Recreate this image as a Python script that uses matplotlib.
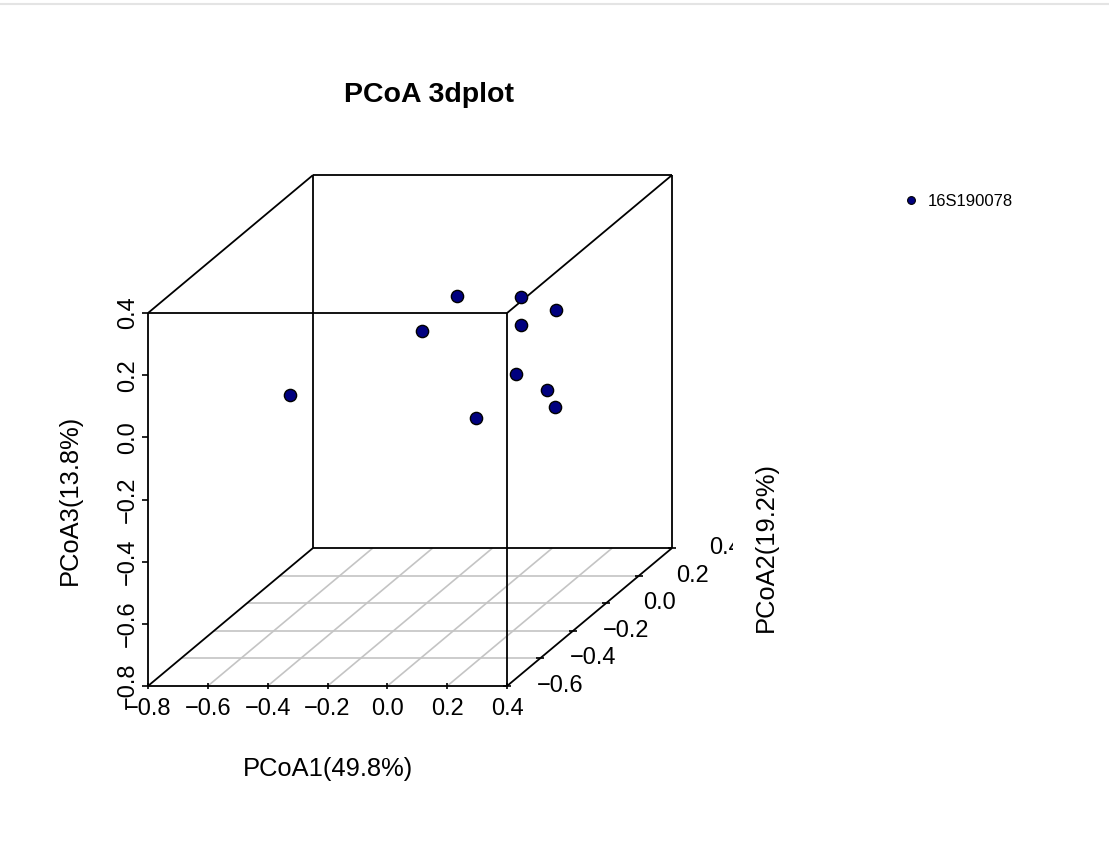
import numpy as np
import matplotlib.pyplot as plt
import matplotlib.transforms as mtransforms
from matplotlib.lines import Line2D

plt.rcParams['font.family'] = ['Liberation Sans', 'DejaVu Sans']

# PCoA scores, one row per sample
pcoa1 = [-0.49, -0.27, -0.21, 0.06, 0.234, 0.171, 0.211, 0.341, 0.311, 0.187]
pcoa2 = [-0.30, 0.10, 0.20, 0.10, 0.00, -0.10, -0.20, -0.25, -0.15, -0.40]
pcoa3 = [0.004, 0.032, 0.10, 0.14, 0.145, 0.14, 0.027, -0.003, -0.102, -0.028]
group = '16S190078'

x_ticks = [-0.8, -0.6, -0.4, -0.2, 0.0, 0.2, 0.4]
y_ticks = [-0.6, -0.4, -0.2, 0.0, 0.2, 0.4]
z_ticks = [-0.8, -0.6, -0.4, -0.2, 0.0, 0.2, 0.4]
axis_labels = ['PCoA1(49.8%)', 'PCoA2(19.2%)', 'PCoA3(13.8%)']
title = 'PCoA 3dplot'

col = '#00007F'

# oblique projection like scatterplot3d: y goes back and up
yx_f, yz_f = 0.5515, 0.444
xlo, xhi = x_ticks[0], x_ticks[-1]
ylo, yhi = y_ticks[0], y_ticks[-1]
zlo, zhi = z_ticks[0], z_ticks[-1]


def proj(x, y, z):
    d = np.asarray(y, dtype=float) - ylo
    return np.asarray(x, dtype=float) + d * yx_f, np.asarray(z, dtype=float) + d * yz_f


def fmt(v):
    return f'{v:.1f}'.replace('-', '\u2212')


W, H = 1109, 856
fig = plt.figure(figsize=(W / 100, H / 100), dpi=100)
ax = fig.add_axes([100 / W, 1 - 700 / H, 633 / W, 550 / H])
ax.set_xlim(-0.9604, 1.1552)
ax.set_ylim(-0.845, 0.9246)
ax.axis('off')


def off(dx, dy):
    return mtransforms.offset_copy(ax.transData, fig=fig, x=dx, y=dy, units='dots')


def seg(p, q, **kw):
    px, pz = proj(*p)
    qx, qz = proj(*q)
    ax.plot([px, qx], [pz, qz], solid_capstyle='butt', **kw)


# grid on the floor
grid_kw = dict(color='#C4C4C4', lw=1.2, zorder=1)
for yt in y_ticks[1:-1]:
    seg((xlo, yt, zlo), (xhi, yt, zlo), **grid_kw)
for xt in x_ticks[1:-1]:
    seg((xt, ylo, zlo), (xt, yhi, zlo), **grid_kw)

# box edges
box_kw = dict(color='black', lw=1.3, zorder=2)
for yv in (ylo, yhi):
    seg((xlo, yv, zlo), (xhi, yv, zlo), **box_kw)
    seg((xlo, yv, zhi), (xhi, yv, zhi), **box_kw)
    seg((xlo, yv, zlo), (xlo, yv, zhi), **box_kw)
    seg((xhi, yv, zlo), (xhi, yv, zhi), **box_kw)
for xv in (xlo, xhi):
    for zv in (zlo, zhi):
        seg((xv, ylo, zv), (xv, yhi, zv), **box_kw)

# ticks
tx, tz = proj(x_ticks, [ylo] * len(x_ticks), [zlo] * len(x_ticks))
ax.plot(tx, tz, ls='none', marker='|', ms=5, mew=1.2, color='black', zorder=3)
tx, tz = proj([xlo] * len(z_ticks), [ylo] * len(z_ticks), z_ticks)
ax.plot(tx, tz, ls='none', marker=0, ms=4, mew=1.2, color='black', zorder=3)
tx, tz = proj([xhi] * len(y_ticks), y_ticks, [zlo] * len(y_ticks))
ax.plot(tx, tz, ls='none', marker='_', ms=6, mew=1.2, color='black', zorder=3)

# tick labels
for xt in x_ticks:
    px, pz = proj(xt, ylo, zlo)
    ax.text(px, pz, fmt(xt), transform=off(0, -29), ha='center', va='baseline',
            fontsize=17, clip_on=False)
for zt in z_ticks:
    px, pz = proj(xlo, ylo, zt)
    ax.text(px, pz, fmt(zt), transform=off(-9, 0), ha='right', va='center',
            rotation=90, fontsize=17, clip_on=False)
for yt in y_ticks:
    px, pz = proj(xhi, yt, zlo)
    ax.text(px, pz, fmt(yt), transform=off(53, 0), ha='center', va='center',
            fontsize=17, clip_on=True)

# axis titles
px, pz = proj((xlo + xhi) / 2, ylo, zlo)
ax.text(px, pz, axis_labels[0], transform=off(0, -90), ha='center', va='baseline',
        fontsize=18.4, clip_on=False)
px, pz = proj(xlo, ylo, (zlo + zhi) / 2)
ax.text(px, pz, axis_labels[2], transform=off(-78, 0), ha='center', va='center',
        rotation=90, fontsize=18.4, clip_on=False)
fig.text(766 / W, 1 - 547 / H, axis_labels[1], ha='center', va='center',
         rotation=90, fontsize=18.4)

fig.text(429 / W, 1 - 102 / H, title, ha='center', va='baseline',
         fontsize=20.5, fontweight='bold')

# samples
sx, sz = proj(pcoa1, pcoa2, pcoa3)
ax.plot(sx, sz, ls='none', marker='o', ms=8.8, mfc=col, mec='black', mew=1.0,
        zorder=5, clip_on=False)

handle = Line2D([], [], ls='none', marker='o', ms=5.6, mfc=col, mec='black', mew=0.8)
fig.legend(handles=[handle], labels=[group], loc='center left',
           bbox_to_anchor=(903 / W, 1 - 201 / H), frameon=False, fontsize=12,
           handlelength=1.0, handletextpad=0.5, borderpad=0, borderaxespad=0)

fig.add_artist(Line2D([0, 1], [1 - 3.5 / H] * 2, color='#E4E4E4', lw=1.5))

fig.savefig('out.png', dpi=100, facecolor='white')
